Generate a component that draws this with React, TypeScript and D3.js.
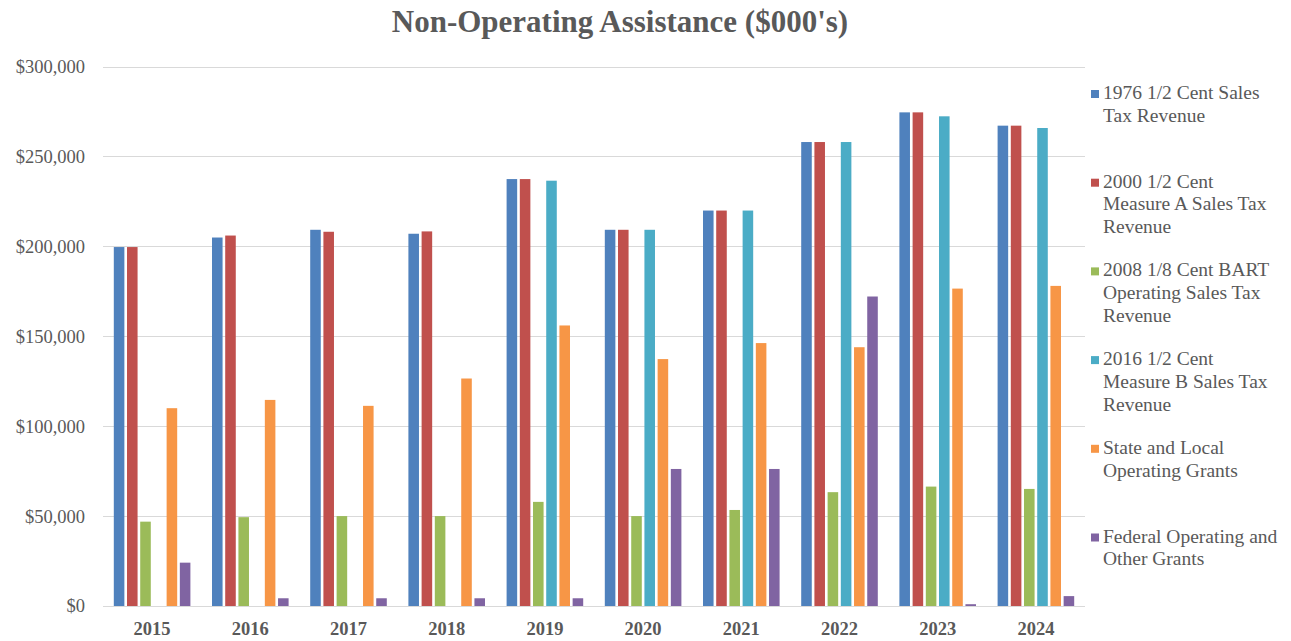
import React from "react";
import * as d3 from "d3";

const years = ["2015", "2016", "2017", "2018", "2019", "2020", "2021", "2022", "2023", "2024"];

const seriesNames = [
  "1976 1/2 Cent Sales Tax Revenue",
  "2000 1/2 Cent Measure A Sales Tax Revenue",
  "2008 1/8 Cent BART Operating Sales Tax Revenue",
  "2016 1/2 Cent Measure B Sales Tax Revenue",
  "State and Local Operating Grants",
  "Federal Operating and Other Grants",
];

const legendLines = [
  ["1976 1/2 Cent Sales", "Tax Revenue"],
  ["2000 1/2 Cent", "Measure A Sales Tax", "Revenue"],
  ["2008 1/8 Cent BART", "Operating Sales Tax", "Revenue"],
  ["2016 1/2 Cent", "Measure B Sales Tax", "Revenue"],
  ["State and Local", "Operating Grants"],
  ["Federal Operating and", "Other Grants"],
];

const colors = ["#4F81BD", "#C0504D", "#9BBB59", "#4BACC6", "#F79646", "#8064A2"];

const salesTax1976 = [199600, 204900, 209200, 207000, 237400, 209200, 219900, 258000, 274500, 267100];
const measureA2000 = [199600, 206000, 208100, 208300, 237400, 209200, 219900, 258000, 274500, 267100];
const bart2008 = [46900, 49400, 50000, 50000, 57900, 50000, 53400, 63300, 66400, 65100];
const measureB2016 = [0, 0, 0, 0, 236500, 209200, 219900, 258000, 272300, 265800];
const stateLocal = [110000, 114600, 111300, 126500, 156000, 137300, 146200, 143900, 176500, 178000];
const federal = [24100, 4300, 4300, 4300, 4300, 76200, 76200, 172100, 1000, 5500];

const seriesValues = [salesTax1976, measureA2000, bart2008, measureB2016, stateLocal, federal];

const yTicks = [0, 50000, 100000, 150000, 200000, 250000, 300000];

const W = 1291;
const H = 641;
const FONT = "'Liberation Serif', 'Times New Roman', serif";
const TEXT = "#595959";

export default function App() {
  const x0 = d3
    .scaleBand<string>()
    .domain(years)
    .range([103, 1085])
    .paddingInner(0.22)
    .paddingOuter(0.11);
  const x1 = d3
    .scaleBand<number>()
    .domain(d3.range(seriesNames.length))
    .range([0, x0.bandwidth()])
    .paddingInner(0.2)
    .paddingOuter(0);
  const y = d3.scaleLinear().domain([0, 300000]).range([606, 66.5]);
  const fmt = (v: number) => "$" + d3.format(",")(v);

  return (
    <svg
      width={W}
      height={H}
      style={{ position: "absolute", left: 0, top: 0, background: "#fff" }}
      fontFamily={FONT}
    >
      <rect x={0} y={0} width={W} height={H} fill="#fff" />
      <text
        x={620}
        y={32}
        textAnchor="middle"
        fontSize={31}
        fontWeight="bold"
        fill={TEXT}
      >
        Non-Operating Assistance ($000's)
      </text>

      {yTicks.map((t) => (
        <g key={t}>
          <line
            x1={103}
            x2={1085}
            y1={Math.round(y(t)) + 0.5}
            y2={Math.round(y(t)) + 0.5}
            stroke="#D9D9D9"
            strokeWidth={1}
          />
          <text
            x={85}
            y={y(t)}
            dy="0.35em"
            textAnchor="end"
            fontSize={18.5}
            fill={TEXT}
          >
            {fmt(t)}
          </text>
        </g>
      ))}

      {years.map((yr, i) => (
        <g key={yr} transform={`translate(${x0(yr)},0)`}>
          {seriesValues.map((vals, s) =>
            vals[i] > 0 ? (
              <rect
                key={s}
                x={x1(s)}
                y={y(vals[i])}
                width={x1.bandwidth()}
                height={y(0) - y(vals[i])}
                fill={colors[s]}
              />
            ) : null
          )}
        </g>
      ))}

      {years.map((yr) => (
        <text
          key={yr}
          x={(x0(yr) as number) + x0.bandwidth() / 2}
          y={635}
          textAnchor="middle"
          fontSize={18.5}
          fontWeight="bold"
          fill={TEXT}
        >
          {yr}
        </text>
      ))}

      {legendLines.map((lines, i) => {
        const base = 99 + i * 88.7;
        return (
          <g key={i}>
            <rect x={1091} y={base - 9} width={8} height={8} fill={colors[i]} />
            {lines.map((ln, j) => (
              <text
                key={j}
                x={1103}
                y={base + j * 22.7}
                fontSize={19.5}
                fill={TEXT}
              >
                {ln}
              </text>
            ))}
          </g>
        );
      })}
    </svg>
  );
}
